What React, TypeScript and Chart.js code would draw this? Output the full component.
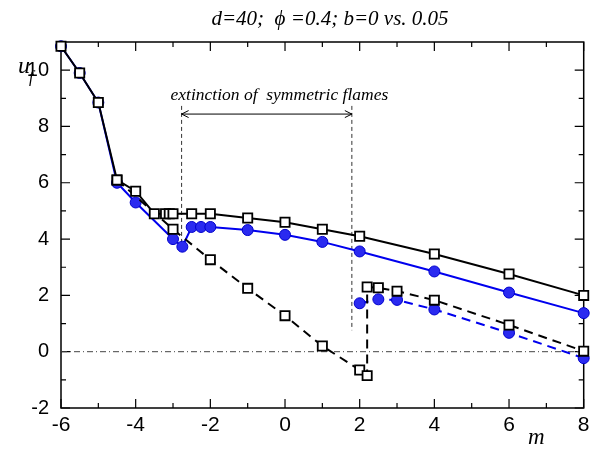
import { useEffect, useRef } from 'react';
import { Chart, registerables } from 'chart.js';

Chart.register(...registerables);

// ---- data ----
const mUpperB0 = [-6, -5.5, -5, -4.5, -4, -3.5, -3.2, -3.1, -3, -2.5, -2, -1, 0, 1, 2, 4, 6, 8];
const uUpperB0 = [10.85, 9.9, 8.85, 6.1, 5.7, 4.9, 4.9, 4.9, 4.9, 4.9, 4.9, 4.75, 4.6, 4.35, 4.1, 3.47, 2.76, 2.0];

const mUpperB05 = [-6, -5.5, -5, -4.5, -4, -3, -2.75, -2.5, -2.25, -2, -1, 0, 1, 2, 4, 6, 8];
const uUpperB05 = [10.85, 9.9, 8.85, 6.0, 5.3, 4.0, 3.73, 4.43, 4.43, 4.43, 4.32, 4.15, 3.9, 3.56, 2.85, 2.1, 1.37];

const mLowerB0 = [-4.5, -3, -2, -1, 0, 1, 2, 2.2, 2.2, 2.5, 3, 4, 6, 8];
const uLowerB0 = [6.1, 4.35, 3.27, 2.25, 1.28, 0.2, -0.65, -0.85, 2.3, 2.27, 2.15, 1.83, 0.95, 0.02];

const mLowerB05 = [2, 2.5, 3, 4, 6, 8];
const uLowerB05 = [1.72, 1.86, 1.84, 1.5, 0.67, -0.23];

const zeroLineM = [-6, 8];
const zeroLineU = [0, 0];

const xTickValues = [-6, -4, -2, 0, 2, 4, 6, 8];
const yTickValues = [-2, 0, 2, 4, 6, 8, 10];
const xMinorValues = [-5, -3, -1, 1, 3, 5, 7];
const yMinorValues = [-1, 1, 3, 5, 7, 9];

const titleText = 'd=40;  \u03d5 =0.4; b=0 vs. 0.05';
const annotationText = 'extinction of  symmetric flames';
// annotation geometry, in data units
const extLeftM = -2.77;
const extRightM = 1.79;
const extTopU = 8.73;
const extLeftBottomU = 3.88;
const extRightBottomU = 0.76;
const arrowU = 8.44;
const annTextM = -0.15;
const annTextU = 8.94;

const pts = (xs: number[], ys: number[]) => xs.map((x, i) => ({ x, y: ys[i] }));

const framePlugin = {
  id: 'frame',
  beforeDatasetsDraw(chart: any) {
    const { ctx, chartArea: a, scales } = chart;
    const xs = scales.x;
    const ys = scales.y;
    ctx.save();
    ctx.strokeStyle = '#000';
    ctx.lineWidth = 1.5;
    ctx.strokeRect(a.left, a.top, a.right - a.left, a.bottom - a.top);
    ctx.lineWidth = 1.2;
    const tick = (vals: number[], len: number) => {
      vals.forEach((v) => {
        const px = xs.getPixelForValue(v);
        ctx.beginPath();
        ctx.moveTo(px, a.bottom);
        ctx.lineTo(px, a.bottom - len);
        ctx.moveTo(px, a.top);
        ctx.lineTo(px, a.top + len);
        ctx.stroke();
      });
    };
    const ticky = (vals: number[], len: number) => {
      vals.forEach((v) => {
        const py = ys.getPixelForValue(v);
        ctx.beginPath();
        ctx.moveTo(a.left, py);
        ctx.lineTo(a.left + len, py);
        ctx.moveTo(a.right, py);
        ctx.lineTo(a.right - len, py);
        ctx.stroke();
      });
    };
    tick(xTickValues, 9);
    tick(xMinorValues, 5);
    ticky(yTickValues, 9);
    ticky(yMinorValues, 5);

    // annotation dashed lines and arrow
    ctx.strokeStyle = '#333';
    ctx.lineWidth = 1;
    ctx.setLineDash([4, 3]);
    const x1 = xs.getPixelForValue(extLeftM);
    const x2 = xs.getPixelForValue(extRightM);
    const yt = ys.getPixelForValue(extTopU);
    ctx.beginPath();
    ctx.moveTo(x1, yt);
    ctx.lineTo(x1, ys.getPixelForValue(extLeftBottomU));
    ctx.moveTo(x2, yt);
    ctx.lineTo(x2, ys.getPixelForValue(extRightBottomU));
    ctx.stroke();
    ctx.setLineDash([]);
    ctx.strokeStyle = '#000';
    const ya = ys.getPixelForValue(arrowU);
    ctx.beginPath();
    ctx.moveTo(x1, ya);
    ctx.lineTo(x2, ya);
    ctx.moveTo(x1 + 7, ya - 3.5);
    ctx.lineTo(x1, ya);
    ctx.lineTo(x1 + 7, ya + 3.5);
    ctx.moveTo(x2 - 7, ya - 3.5);
    ctx.lineTo(x2, ya);
    ctx.lineTo(x2 - 7, ya + 3.5);
    ctx.stroke();
    ctx.restore();
  },
  afterDraw(chart: any) {
    const { ctx, scales } = chart;
    const xs = scales.x;
    const ys = scales.y;
    ctx.save();
    ctx.fillStyle = '#000';
    ctx.textBaseline = 'alphabetic';
    // title
    ctx.font = 'italic 21px "Liberation Serif"';
    ctx.textAlign = 'center';
    ctx.fillText(titleText, 330, 25);
    // annotation text
    ctx.font = 'italic 17.5px "Liberation Serif"';
    ctx.fillText(annotationText, xs.getPixelForValue(annTextM), ys.getPixelForValue(annTextU));
    // axis titles
    ctx.textAlign = 'left';
    ctx.font = 'italic 24px "Liberation Serif"';
    ctx.fillText('u', 18, 73);
    ctx.font = 'italic 16px "Liberation Serif"';
    ctx.fillText('f', 29, 82);
    ctx.font = 'italic 23px "Liberation Serif"';
    ctx.fillText('m', 528, 444);
    ctx.restore();
  },
};

export default function App() {
  const ref = useRef<HTMLCanvasElement | null>(null);
  useEffect(() => {
    if (!ref.current) return;
    const black = '#000000';
    const blue = '#0000ee';
    const chart = new Chart(ref.current, {
      type: 'line',
      data: {
        datasets: [
          {
            label: 'upper b=0',
            data: pts(mUpperB0, uUpperB0),
            borderColor: black,
            borderWidth: 2,
            pointStyle: 'rect',
            pointRadius: 6.5,
            pointBorderWidth: 1.8,
            pointBackgroundColor: '#ffffff',
            pointBorderColor: black,
            clip: false,
          } as any,
          {
            label: 'lower b=0',
            data: pts(mLowerB0, uLowerB0),
            borderColor: black,
            borderWidth: 2,
            borderDash: [9, 6],
            pointStyle: 'rect',
            pointRadius: 6.5,
            pointBorderWidth: 1.8,
            pointBackgroundColor: '#ffffff',
            pointBorderColor: black,
            clip: false,
          } as any,
          {
            label: 'upper b=0.05',
            data: pts(mUpperB05, uUpperB05),
            borderColor: blue,
            borderWidth: 2,
            pointStyle: 'circle',
            pointRadius: 5.5,
            pointBorderWidth: 1,
            pointBackgroundColor: '#2a2af0',
            pointBorderColor: '#0000cc',
            clip: false,
          } as any,
          {
            label: 'lower b=0.05',
            data: pts(mLowerB05, uLowerB05),
            borderColor: blue,
            borderWidth: 2,
            borderDash: [9, 6],
            pointStyle: 'circle',
            pointRadius: 5.5,
            pointBorderWidth: 1,
            pointBackgroundColor: '#2a2af0',
            pointBorderColor: '#0000cc',
            clip: false,
          } as any,
          {
            label: 'zero',
            data: pts(zeroLineM, zeroLineU),
            borderColor: '#444444',
            borderWidth: 1,
            borderDash: [6, 3, 1, 3],
            pointRadius: 0,
          } as any,
        ],
      },
      options: {
        animation: false,
        responsive: false,
        layout: { padding: { top: 42, right: 6, left: 0, bottom: 0 } },
        plugins: { legend: { display: false }, tooltip: { enabled: false }, title: { display: false } },
        elements: { line: { tension: 0 } },
        scales: {
          x: {
            type: 'linear',
            min: -6,
            max: 8,
            grid: { display: false },
            border: { display: false },
            afterBuildTicks: (s: any) => {
              s.ticks = xTickValues.map((v) => ({ value: v }));
            },
            afterFit: (s: any) => {
              s.height = 42;
            },
            ticks: {
              color: '#000',
              padding: -3,
              maxRotation: 0,
              autoSkip: false,
              font: { family: '"Liberation Sans"', size: 21 },
            },
          },
          y: {
            type: 'linear',
            min: -2,
            max: 11,
            grid: { display: false },
            border: { display: false },
            afterBuildTicks: (s: any) => {
              s.ticks = yTickValues.map((v) => ({ value: v }));
            },
            afterFit: (s: any) => {
              s.width = 61;
            },
            ticks: {
              color: '#000',
              padding: 4,
              autoSkip: false,
              font: { family: '"Liberation Sans"', size: 20 },
            },
          },
        },
      } as any,
      plugins: [framePlugin],
    });
    return () => chart.destroy();
  }, []);
  return (
    <div style={{ position: 'fixed', left: 0, top: 0, width: 592, height: 450, background: '#fff' }}>
      <canvas ref={ref} width={592} height={450} style={{ width: 592, height: 450 }} />
    </div>
  );
}
